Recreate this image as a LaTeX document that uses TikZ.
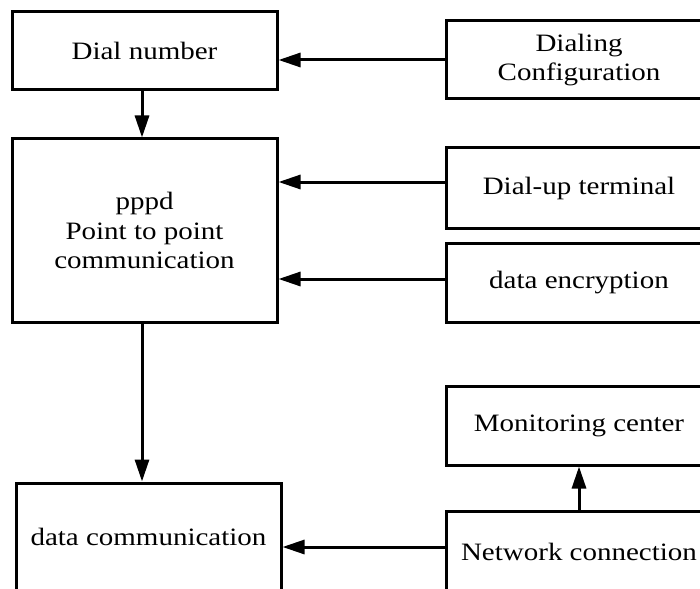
\documentclass[tikz,border=0pt]{standalone}
\usepackage{fontspec}
\setmainfont{Liberation Serif}[FakeStretch=1.16]
\usetikzlibrary{arrows.meta}
\begin{document}
\begin{tikzpicture}[x=1pt,y=-1pt,
  box/.style={draw=black,line width=3pt,rectangle,inner sep=0pt,align=center,
    font=\fontsize{25}{29.5}\selectfont},
  arr/.style={draw=black,line width=3pt,-{Triangle[length=22pt,width=14pt]}}]
\useasboundingbox (0,0) rectangle (700,588);
\clip (0,0) rectangle (700,588);
\node[box,minimum width=265pt,minimum height=78pt] (dial) at (144.5,51) {Dial number};
\node[box,minimum width=265pt,minimum height=78pt] (conf) at (579,60) {Dialing\\Configuration};
\node[box,minimum width=265pt,minimum height=183pt] (pppd) at (144.5,230.5) {pppd\\Point to point\\communication};
\node[box,minimum width=265pt,minimum height=80pt] (term) at (579,188) {Dial-up terminal};
\node[box,minimum width=265pt,minimum height=79pt] (enc) at (579,282.5) {data encryption};
\node[box,minimum width=265pt,minimum height=79pt] (mon) at (579,425.5) {Monitoring center};
\node[box,minimum width=265pt,minimum height=82pt] (net) at (579,552) {Network connection};
\node[box,minimum width=265pt,minimum height=108pt] (dc) at (148.5,537) {data communication};
% connectors
\draw[arr] ([xshift=2pt]conf.west) coordinate (c1) -- (c1 -| dial.east);
\draw[arr] ([xshift=-2.5pt]dial.south) coordinate (d1) -- (d1 |- pppd.north);
\draw[arr] ([yshift=6pt]term.west) coordinate (t1) -- (t1 -| pppd.east);
\draw[arr] ([xshift=2pt,yshift=3.5pt]enc.west) coordinate (e1) -- (e1 -| pppd.east);
\draw[arr] ([xshift=-2.5pt]pppd.south) coordinate (p1) -- (p1 |- dc.north);
\draw[arr] ([xshift=2pt,yshift=5pt]net.west) coordinate (n1) -- (n1 -| dc.east);
\draw[arr] (net.north) -- (mon.south);
\end{tikzpicture}
\end{document}
